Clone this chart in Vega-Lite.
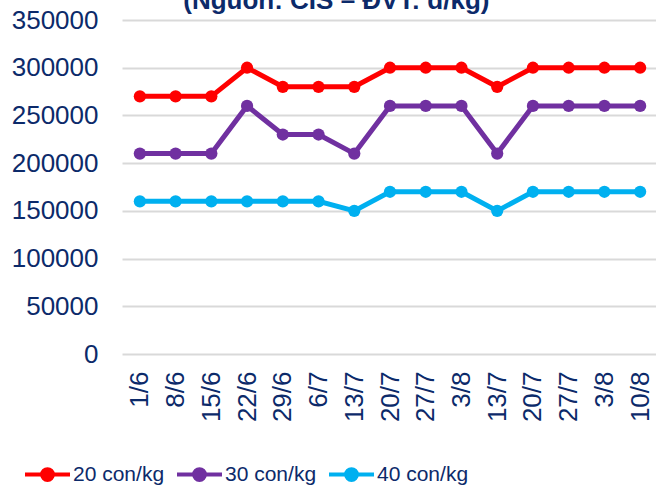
{
  "$schema": "https://vega.github.io/schema/vega-lite/v6.json",
  "width": 536,
  "height": 334,
  "autosize": {"type": "none"},
  "padding": {"left": 122, "top": 20, "right": 0, "bottom": 134},
  "background": "white",
  "title": {
    "text": "(Nguồn: CIS – ĐVT: đ/kg)",
    "anchor": "start",
    "dx": 172,
    "offset": -7,
    "font": "Liberation Sans",
    "fontSize": 26,
    "fontWeight": "bold",
    "color": "#0c2a6a"
  },
  "config": {
    "view": {"stroke": null},
    "font": "Liberation Sans"
  },
  "data": {
    "values": [
      {"i": 0, "s": "20 con/kg", "v": 270000},
      {"i": 1, "s": "20 con/kg", "v": 270000},
      {"i": 2, "s": "20 con/kg", "v": 270000},
      {"i": 3, "s": "20 con/kg", "v": 300000},
      {"i": 4, "s": "20 con/kg", "v": 280000},
      {"i": 5, "s": "20 con/kg", "v": 280000},
      {"i": 6, "s": "20 con/kg", "v": 280000},
      {"i": 7, "s": "20 con/kg", "v": 300000},
      {"i": 8, "s": "20 con/kg", "v": 300000},
      {"i": 9, "s": "20 con/kg", "v": 300000},
      {"i": 10, "s": "20 con/kg", "v": 280000},
      {"i": 11, "s": "20 con/kg", "v": 300000},
      {"i": 12, "s": "20 con/kg", "v": 300000},
      {"i": 13, "s": "20 con/kg", "v": 300000},
      {"i": 14, "s": "20 con/kg", "v": 300000},
      {"i": 0, "s": "30 con/kg", "v": 210000},
      {"i": 1, "s": "30 con/kg", "v": 210000},
      {"i": 2, "s": "30 con/kg", "v": 210000},
      {"i": 3, "s": "30 con/kg", "v": 260000},
      {"i": 4, "s": "30 con/kg", "v": 230000},
      {"i": 5, "s": "30 con/kg", "v": 230000},
      {"i": 6, "s": "30 con/kg", "v": 210000},
      {"i": 7, "s": "30 con/kg", "v": 260000},
      {"i": 8, "s": "30 con/kg", "v": 260000},
      {"i": 9, "s": "30 con/kg", "v": 260000},
      {"i": 10, "s": "30 con/kg", "v": 210000},
      {"i": 11, "s": "30 con/kg", "v": 260000},
      {"i": 12, "s": "30 con/kg", "v": 260000},
      {"i": 13, "s": "30 con/kg", "v": 260000},
      {"i": 14, "s": "30 con/kg", "v": 260000},
      {"i": 0, "s": "40 con/kg", "v": 160000},
      {"i": 1, "s": "40 con/kg", "v": 160000},
      {"i": 2, "s": "40 con/kg", "v": 160000},
      {"i": 3, "s": "40 con/kg", "v": 160000},
      {"i": 4, "s": "40 con/kg", "v": 160000},
      {"i": 5, "s": "40 con/kg", "v": 160000},
      {"i": 6, "s": "40 con/kg", "v": 150000},
      {"i": 7, "s": "40 con/kg", "v": 170000},
      {"i": 8, "s": "40 con/kg", "v": 170000},
      {"i": 9, "s": "40 con/kg", "v": 170000},
      {"i": 10, "s": "40 con/kg", "v": 150000},
      {"i": 11, "s": "40 con/kg", "v": 170000},
      {"i": 12, "s": "40 con/kg", "v": 170000},
      {"i": 13, "s": "40 con/kg", "v": 170000},
      {"i": 14, "s": "40 con/kg", "v": 170000}
    ]
  },
  "mark": {"type": "line", "strokeWidth": 5, "point": {"filled": true, "size": 150, "opacity": 1}},
  "encoding": {
    "x": {
      "field": "i",
      "type": "ordinal",
      "scale": {"type": "point", "padding": 0.5},
      "axis": {
        "title": null,
        "domain": false,
        "ticks": false,
        "labelAngle": -90,
        "labelAlign": "right",
        "labelBaseline": "middle",
        "labelPadding": 17,
        "labelFontSize": 26,
        "labelColor": "#0c2a6a",
        "labelFont": "Liberation Sans",
        "labelExpr": "['1/6','8/6','15/6','22/6','29/6','6/7','13/7','20/7','27/7','3/8','13/7','20/7','27/7','3/8','10/8'][datum.value]"
      }
    },
    "y": {
      "field": "v",
      "type": "quantitative",
      "scale": {"domain": [0, 350000]},
      "axis": {
        "title": null,
        "values": [0, 50000, 100000, 150000, 200000, 250000, 300000, 350000],
        "format": "d",
        "domain": false,
        "ticks": false,
        "labelPadding": 24,
        "labelFontSize": 26,
        "labelColor": "#0c2a6a",
        "labelFont": "Liberation Sans",
        "gridColor": "#d9d9d9",
        "gridWidth": 2
      }
    },
    "color": {
      "field": "s",
      "type": "nominal",
      "scale": {"domain": ["20 con/kg", "30 con/kg", "40 con/kg"], "range": ["#ff0000", "#7030a0", "#00b0f0"]},
      "legend": {
        "title": null,
        "orient": "none",
        "direction": "horizontal",
        "legendX": -99,
        "legendY": 430,
        "symbolType": "M-1,0H1M-0.24,0a0.24,0.24 0 1,0 0.48,0a0.24,0.24 0 1,0 -0.48,0",
        "symbolSize": 2025,
        "symbolStrokeWidth": 4,
        "labelFontSize": 21,
        "labelFont": "Liberation Sans",
        "labelColor": "#0c2a6a",
        "labelOffset": 1,
        "columnPadding": 4,
        "encode": {
          "symbols": {"update": {"fill": {"scale": "color", "field": "value"}, "fillOpacity": {"value": 1}, "opacity": {"value": 1}}}
        }
      }
    }
  }
}
